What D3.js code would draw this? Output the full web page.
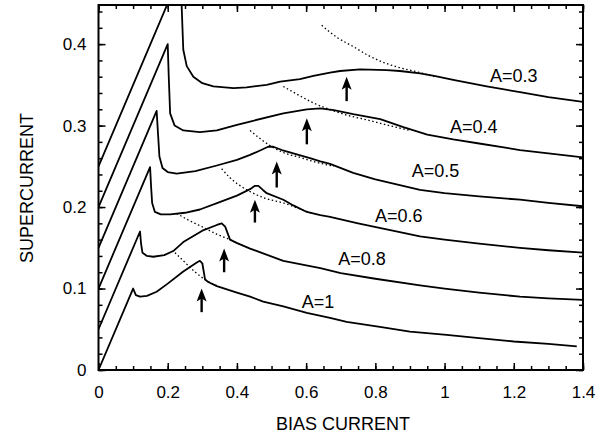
<!DOCTYPE html>
<html>
<head>
<meta charset="utf-8">
<script src="https://cdn.jsdelivr.net/npm/d3@7"></script>
<style>
  body { margin: 0; background: #fff; }
  text { font-family: "Liberation Sans", Arial, Helvetica, sans-serif; fill: #000; }
</style>
</head>
<body>
<div id="chart"></div>
<script>
// curve data: [bias current, supercurrent]
const curveA1 = [[0,0],[0.1,0.1],[0.108,0.092],[0.12,0.09],[0.14,0.091],[0.168,0.096],[0.2,0.106],[0.245,0.121],[0.284,0.132],[0.293,0.134],[0.3,0.131],[0.308,0.111],[0.317,0.108],[0.342,0.103],[0.4,0.095],[0.438,0.09],[0.476,0.084],[0.534,0.078],[0.602,0.07],[0.669,0.064],[0.717,0.059],[0.813,0.053],[0.9,0.047],[1.006,0.043],[1.1,0.039],[1.2,0.035],[1.3,0.032],[1.382,0.029]];
const curveA08 = [[0,0.05],[0.12,0.17],[0.123,0.155],[0.127,0.144],[0.14,0.14],[0.158,0.139],[0.19,0.141],[0.216,0.146],[0.245,0.157],[0.3,0.171],[0.342,0.178],[0.356,0.18],[0.366,0.176],[0.38,0.16],[0.399,0.156],[0.438,0.149],[0.534,0.134],[0.641,0.125],[0.7,0.119],[0.8,0.112],[0.929,0.104],[1.0,0.1],[1.1,0.095],[1.218,0.09],[1.3,0.088],[1.4,0.086]];
const curveA06 = [[0,0.1],[0.149,0.249],[0.152,0.225],[0.155,0.205],[0.163,0.194],[0.18,0.191],[0.207,0.191],[0.25,0.193],[0.293,0.197],[0.35,0.206],[0.4,0.214],[0.438,0.222],[0.452,0.226],[0.462,0.226],[0.475,0.221],[0.486,0.217],[0.534,0.209],[0.563,0.202],[0.602,0.194],[0.641,0.19],[0.669,0.188],[0.75,0.18],[0.85,0.171],[0.929,0.164],[1.0,0.16],[1.1,0.155],[1.218,0.15],[1.3,0.147],[1.4,0.144]];
const curveA05 = [[0,0.15],[0.168,0.318],[0.172,0.29],[0.176,0.262],[0.185,0.248],[0.2,0.243],[0.226,0.241],[0.28,0.244],[0.342,0.251],[0.4,0.258],[0.438,0.264],[0.47,0.27],[0.49,0.274],[0.505,0.274],[0.53,0.27],[0.553,0.267],[0.611,0.26],[0.641,0.256],[0.669,0.253],[0.736,0.242],[0.8,0.234],[0.929,0.221],[1.0,0.217],[1.1,0.213],[1.218,0.209],[1.3,0.205],[1.4,0.201]];
const curveA04 = [[0,0.2],[0.2,0.4],[0.203,0.36],[0.207,0.315],[0.22,0.3],[0.245,0.294],[0.293,0.292],[0.342,0.294],[0.4,0.301],[0.438,0.305],[0.534,0.315],[0.602,0.32],[0.641,0.321],[0.68,0.319],[0.736,0.314],[0.814,0.308],[0.881,0.298],[0.95,0.289],[1.025,0.283],[1.1,0.278],[1.218,0.27],[1.3,0.266],[1.4,0.261]];
const curveA03 = [[0,0.25],[0.232,0.482],[0.24,0.45],[0.245,0.393],[0.255,0.373],[0.274,0.36],[0.3,0.352],[0.332,0.348],[0.39,0.346],[0.428,0.347],[0.486,0.35],[0.525,0.354],[0.582,0.357],[0.621,0.361],[0.669,0.365],[0.698,0.367],[0.756,0.369],[0.833,0.368],[0.871,0.367],[0.929,0.364],[0.97,0.361],[1.025,0.356],[1.122,0.348],[1.218,0.341],[1.3,0.335],[1.4,0.329]];

// dotted curves
const dotA1 = [[0.221,0.144],[0.25,0.132],[0.28,0.12],[0.308,0.111],[0.35,0.102]];
const dotA08 = [[0.226,0.192],[0.26,0.184],[0.303,0.175],[0.34,0.167],[0.38,0.16],[0.42,0.152]];
const dotA06 = [[0.356,0.247],[0.38,0.236],[0.41,0.226],[0.438,0.219],[0.48,0.211],[0.534,0.205],[0.58,0.198],[0.62,0.192]];
const dotA05 = [[0.438,0.294],[0.47,0.283],[0.505,0.273],[0.54,0.266],[0.582,0.261],[0.62,0.256],[0.68,0.25]];
const dotA04 = [[0.534,0.348],[0.58,0.337],[0.62,0.328],[0.66,0.321],[0.7,0.315],[0.785,0.306],[0.85,0.299],[0.9,0.294]];
const dotA03 = [[0.645,0.423],[0.69,0.408],[0.736,0.397],[0.78,0.386],[0.833,0.376],[0.871,0.371],[0.929,0.365],[0.97,0.36]];

const solidCurves = [curveA1, curveA08, curveA06, curveA05, curveA04, curveA03];
const dottedCurves = [dotA1, dotA08, dotA06, dotA05, dotA04, dotA03];

// arrows below the peaks
const arrowX = [0.298, 0.363, 0.452, 0.515, 0.602, 0.717];
const arrowTip = [0.1, 0.149, 0.209, 0.256, 0.309, 0.36];
const arrowTail = [0.071, 0.12, 0.181, 0.224, 0.277, 0.33];

// curve labels
const labelText = ["A=1", "A=0.8", "A=0.6", "A=0.5", "A=0.4", "A=0.3"];
const labelX = [0.587, 0.693, 0.799, 0.905, 1.016, 1.1315];
const labelY = [0.0761, 0.1288, 0.1816, 0.2368, 0.2908, 0.3534];

const xTicks = [0, 0.2, 0.4, 0.6, 0.8, 1, 1.2, 1.4];
const yTicks = [0, 0.1, 0.2, 0.3, 0.4];

//set the dimensions and margins of the graph
const margin = {top: 5, right: 25, bottom: 69, left: 98.5};
const width = 608 - margin.left - margin.right;
const height = 439 - margin.top - margin.bottom;

const svg = d3.select("#chart")
    .append("svg")
    .attr("width", 608)
    .attr("height", 439)
    .append("g")
    .attr("transform", "translate(" + margin.left + "," + margin.top + ")");

const x = d3.scaleLinear().domain([0, 1.4]).range([0, width]);
const y = d3.scaleLinear().domain([0, 0.448]).range([height, 0]);

svg.append("clipPath").attr("id", "plotclip")
    .append("rect").attr("width", width).attr("height", height);

const line = d3.line()
    .x(d => x(d[0]))
    .y(d => y(d[1]));

const plot = svg.append("g").attr("clip-path", "url(#plotclip)");

// dotted curves
plot.selectAll(".dot-curve")
    .data(dottedCurves)
    .enter().append("path")
    .attr("class", "dot-curve")
    .attr("d", line.curve(d3.curveMonotoneX))
    .attr("fill", "none")
    .attr("stroke", "#000")
    .attr("stroke-width", 1.3)
    .attr("stroke-dasharray", "1.5,2.5");

// solid curves
plot.selectAll(".solid-curve")
    .data(solidCurves)
    .enter().append("path")
    .attr("class", "solid-curve")
    .attr("d", line.curve(d3.curveLinear))
    .attr("fill", "none")
    .attr("stroke", "#000")
    .attr("stroke-width", 1.8)
    .attr("stroke-linejoin", "round");

// arrows
const arrows = svg.selectAll(".arrow")
    .data(arrowX.map((v, i) => ({x: v, tip: arrowTip[i], tail: arrowTail[i]})))
    .enter().append("g")
    .attr("class", "arrow");

arrows.append("line")
    .attr("x1", d => x(d.x)).attr("x2", d => x(d.x))
    .attr("y1", d => y(d.tail)).attr("y2", d => y(d.tip) + 6)
    .attr("stroke", "#000")
    .attr("stroke-width", 2.4);

arrows.append("path")
    .attr("d", d => {
        const cx = x(d.x), ty = y(d.tip);
        return "M" + cx + "," + ty + "L" + (cx - 5) + "," + (ty + 13) +
            "L" + cx + "," + (ty + 10) + "L" + (cx + 5) + "," + (ty + 13) + "Z";
    })
    .attr("fill", "#000");

// labels
svg.selectAll(".curve-label")
    .data(labelText)
    .enter().append("text")
    .attr("class", "curve-label")
    .attr("x", (d, i) => x(labelX[i]))
    .attr("y", (d, i) => y(labelY[i]))
    .style("font-size", "18px")
    .text(d => d);

// major and minor ticks (inward), on all four sides
const fmt = d => String(d);

svg.append("g")
    .attr("transform", "translate(0," + height + ")")
    .call(d3.axisBottom(x).tickValues(xTicks).tickFormat(fmt).tickSize(-7).tickPadding(16))
    .call(g => g.select(".domain").remove())
    .call(g => g.selectAll("text").style("font-size", "17px").style("font-family", null));

svg.append("g")
    .attr("transform", "translate(0," + height + ")")
    .call(d3.axisBottom(x).tickValues(d3.range(0, 1.401, 0.05)).tickFormat("").tickSize(-4))
    .call(g => g.select(".domain").remove());

svg.append("g")
    .call(d3.axisTop(x).tickValues(xTicks).tickFormat("").tickSize(-7))
    .call(g => g.select(".domain").remove());

svg.append("g")
    .call(d3.axisTop(x).tickValues(d3.range(0, 1.401, 0.05)).tickFormat("").tickSize(-4))
    .call(g => g.select(".domain").remove());

svg.append("g")
    .call(d3.axisLeft(y).tickValues(yTicks).tickFormat(fmt).tickSize(-7).tickPadding(12))
    .call(g => g.select(".domain").remove())
    .call(g => g.selectAll("text").style("font-size", "17px").style("font-family", null));

svg.append("g")
    .call(d3.axisLeft(y).tickValues(d3.range(0, 0.441, 0.02)).tickFormat("").tickSize(-4))
    .call(g => g.select(".domain").remove());

svg.append("g")
    .attr("transform", "translate(" + width + ",0)")
    .call(d3.axisRight(y).tickValues(yTicks).tickFormat("").tickSize(-7))
    .call(g => g.select(".domain").remove());

svg.append("g")
    .attr("transform", "translate(" + width + ",0)")
    .call(d3.axisRight(y).tickValues(d3.range(0, 0.441, 0.02)).tickFormat("").tickSize(-4))
    .call(g => g.select(".domain").remove());

svg.selectAll(".tick line").attr("stroke", "#000").attr("stroke-width", 1.5);

// frame
svg.append("rect")
    .attr("width", width)
    .attr("height", height)
    .attr("fill", "none")
    .attr("stroke", "#000")
    .attr("stroke-width", 2);

// axis titles
svg.append("text")
    .attr("x", 343 - margin.left)
    .attr("y", 430 - margin.top)
    .style("text-anchor", "middle")
    .style("font-size", "18px")
    .text("BIAS CURRENT");

svg.append("text")
    .attr("transform", "rotate(-90)")
    .attr("x", -(188 - margin.top))
    .attr("y", 33 - margin.left)
    .style("text-anchor", "middle")
    .style("font-size", "18px")
    .text("SUPERCURRENT");
</script>
</body>
</html>
